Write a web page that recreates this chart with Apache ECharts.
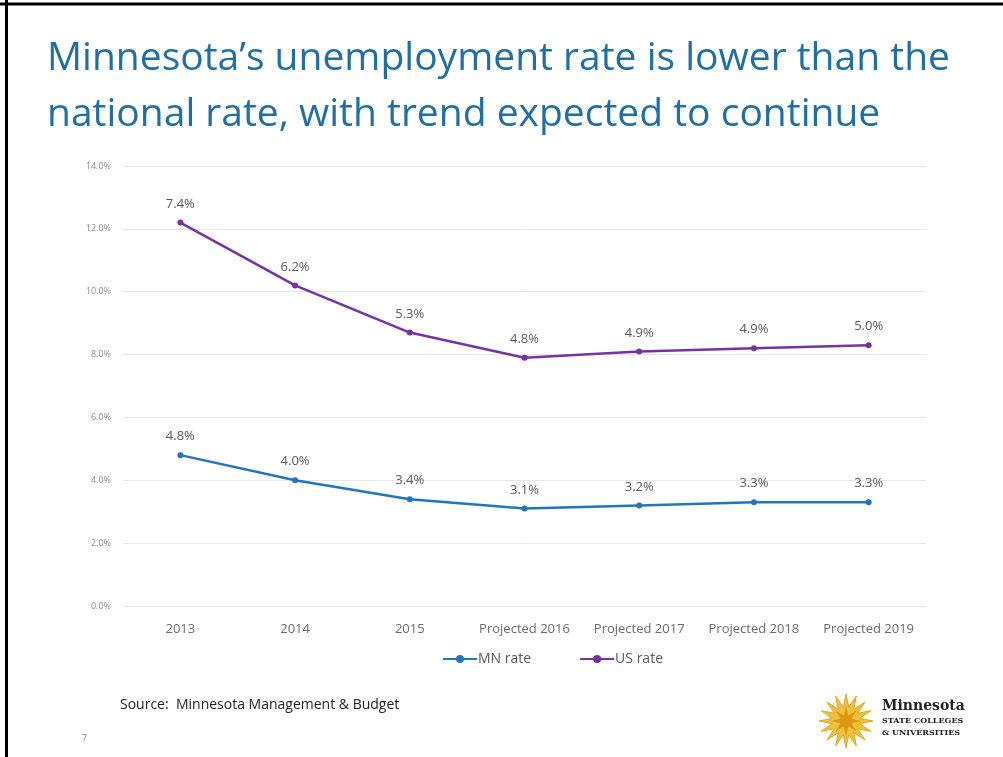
<!DOCTYPE html>
<html>
<head>
<meta charset="utf-8">
<script src="https://cdn.jsdelivr.net/npm/echarts@6/dist/echarts.min.js"></script>
<style>
  html, body { margin: 0; padding: 0; background: #fff; }
  #chart { width: 1003px; height: 757px; }
</style>
</head>
<body>
<div id="chart"></div>
<script>
// categories and values (percent)
const years = ['2013', '2014', '2015', 'Projected 2016', 'Projected 2017', 'Projected 2018', 'Projected 2019'];
const mnRate = [4.8, 4.0, 3.4, 3.1, 3.2, 3.3, 3.3];
const usRate = [7.4, 6.2, 5.3, 4.8, 4.9, 4.9, 5.0]; // stacked on top of MN in the original
const yTicks = { min: 0, max: 14, interval: 2 };

const mnColor = '#2374c0';
const usColor = '#7432a4';

const chart = echarts.init(document.getElementById('chart'), null, { renderer: 'canvas' });

// logo star points (decoration only)
function starPoints(cx, cy, rOut, rIn, n) {
  const pts = [];
  for (let i = 0; i < n * 2; i++) {
    const r = i % 2 === 0 ? rOut : rIn;
    const a = Math.PI * i / n - Math.PI / 2;
    pts.push([cx + r * Math.cos(a), cy + r * Math.sin(a)]);
  }
  return pts;
}

const pctLabel = (p) => p.value.toFixed(1) + '%';

const option = {
  backgroundColor: '#fff',
  animation: false,
  textStyle: { fontFamily: 'Open Sans, Noto Sans, sans-serif' },
  title: {
    text: 'Minnesota\u2019s unemployment rate is lower than the\nnational rate, with trend expected to continue',
    left: 42,
    top: 26,
    textStyle: {
      color: '#1f6fa6',
      fontSize: 39,
      fontWeight: 'normal',
      lineHeight: 56,
      fontFamily: 'Open Sans, Noto Sans, sans-serif'
    }
  },
  grid: {
    left: 123,
    right: 77,
    top: 166,
    bottom: 151,
    containLabel: false
  },
  legend: {
    data: ['MN rate', 'US rate'],
    left: 437,
    top: 647,
    itemGap: 48,
    itemWidth: 34,
    itemHeight: 10,
    textStyle: { color: '#595959', fontSize: 14, padding: [0, 0, 0, -4] }
  },
  xAxis: {
    type: 'category',
    data: years,
    boundaryGap: true,
    axisLine: { show: false },
    axisTick: { show: false },
    axisLabel: { color: '#6b6b6b', fontSize: 13, margin: 17, interval: 0 }
  },
  yAxis: {
    type: 'value',
    min: yTicks.min,
    max: yTicks.max,
    interval: yTicks.interval,
    axisLine: { show: false },
    axisTick: { show: false },
    axisLabel: {
      color: '#8c8c8c',
      fontSize: 9,
      margin: 12,
      formatter: (v) => v.toFixed(1) + '%'
    },
    splitLine: { lineStyle: { color: '#e6e6e6', width: 1 } }
  },
  series: [
    {
      name: 'MN rate',
      type: 'line',
      stack: 'rate',
      data: mnRate,
      symbol: 'circle',
      symbolSize: 6,
      color: mnColor,
      lineStyle: { width: 2.5, color: mnColor },
      itemStyle: { color: mnColor },
      label: {
        show: true,
        position: 'top',
        distance: 9,
        color: '#595959',
        fontSize: 13,
        formatter: pctLabel
      }
    },
    {
      name: 'US rate',
      type: 'line',
      stack: 'rate',
      data: usRate,
      symbol: 'circle',
      symbolSize: 6,
      color: usColor,
      lineStyle: { width: 2.5, color: usColor },
      itemStyle: { color: usColor },
      label: {
        show: true,
        position: 'top',
        distance: 9,
        color: '#595959',
        fontSize: 13,
        formatter: pctLabel
      }
    }
  ],
  graphic: [
    // slide frame (top and left edge)
    { type: 'line', shape: { x1: 0, y1: 4, x2: 1003, y2: 4 }, style: { stroke: '#000', lineWidth: 3 } },
    { type: 'line', shape: { x1: 6.5, y1: 0, x2: 6.5, y2: 757 }, style: { stroke: '#000', lineWidth: 3 } },
    {
      type: 'text', left: 120, top: 698,
      style: { text: 'Source:  Minnesota Management & Budget', fill: '#222', font: '14px "Open Sans", sans-serif' }
    },
    {
      type: 'text', left: 82, top: 734,
      style: { text: '7', fill: '#888', font: '9px "Open Sans", sans-serif' }
    },
    // logo
    {
      type: 'polygon',
      shape: { points: starPoints(846, 721, 27, 14, 16) },
      style: { fill: '#f0c040', stroke: '#e0a818', lineWidth: 1 }
    },
    {
      type: 'polygon',
      shape: { points: starPoints(846, 721, 15, 6, 8) },
      style: { fill: '#d99a10' }
    },
    {
      type: 'text', left: 882, top: 699,
      style: { text: 'Minnesota', fill: '#222', font: 'bold 14px "DejaVu Serif", serif' }
    },
    {
      type: 'text', left: 882, top: 717,
      style: { text: 'STATE COLLEGES', fill: '#222', font: 'bold 8px "DejaVu Serif", serif' }
    },
    {
      type: 'text', left: 882, top: 729,
      style: { text: '& UNIVERSITIES', fill: '#222', font: 'bold 8px "DejaVu Serif", serif' }
    }
  ]
};

chart.setOption(option);
</script>
</body>
</html>
